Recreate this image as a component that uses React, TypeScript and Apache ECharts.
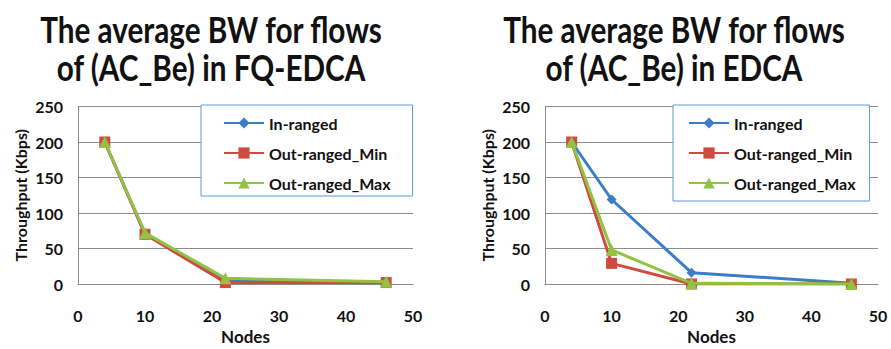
import React, { useEffect, useRef } from "react";
import * as echarts from "echarts";

const nodes = [4, 10, 22, 46];
const seriesNames = ["In-ranged", "Out-ranged_Min", "Out-ranged_Max"];
const fqIn = [200, 71, 5, 2];
const fqMin = [200, 70, 2, 2];
const fqMax = [200, 72, 8, 3];
const edIn = [200, 119, 16, 1];
const edMin = [200, 29, 0, 0];
const edMax = [200, 48, 1, 0];
const yTicks = [0, 50, 100, 150, 200, 250];
const xTicks = [0, 10, 20, 30, 40, 50];
const titles = [
  "The average BW for flows\nof (AC_Be) in FQ-EDCA",
  "The average BW for flows\nof (AC_Be) in EDCA",
];

const FONT = "Lato, 'DejaVu Sans', sans-serif";
const colors = ["#3B7DC8", "#CD4B3F", "#92C143"];
const symbols = ["diamond", "rect", "triangle"];
const symbolSizes = [10, 11, 12];
const gridColor = "#8c8c8c";

function pair(xs: number[], ys: number[]) {
  return xs.map((x, i) => [x, ys[i]]);
}

export default function App() {
  const ref = useRef<HTMLDivElement>(null);
  useEffect(() => {
    if (!ref.current) return;
    const chart = echarts.init(ref.current, undefined, { renderer: "svg" });
    const grids = [
      { left: 78, right: 891 - 413, top: 106.5, bottom: 65, containLabel: false, outerBoundsMode: "none" },
      { left: 545, right: 891 - 878, top: 106.5, bottom: 65, containLabel: false, outerBoundsMode: "none" },
    ];
    const xAxis = grids.map((_, i) => ({
      type: "value",
      gridIndex: i,
      min: xTicks[0],
      max: xTicks[xTicks.length - 1],
      interval: 10,
      name: "Nodes",
      nameLocation: "middle",
      nameGap: 44,
      nameTextStyle: { fontFamily: FONT, fontWeight: "bold", fontSize: 17, color: "#111" },
      axisLine: { show: true, lineStyle: { color: gridColor } },
      axisTick: { show: false },
      splitLine: { show: false },
      axisLabel: { margin: 23, fontFamily: FONT, fontWeight: "bold", fontSize: 16, color: "#111" },
    }));
    const yAxis = grids.map((_, i) => ({
      type: "value",
      gridIndex: i,
      min: yTicks[0],
      max: yTicks[yTicks.length - 1],
      interval: 50,
      name: "Throughput (Kbps)",
      nameLocation: "middle",
      nameGap: 50,
      nameTextStyle: { fontFamily: FONT, fontWeight: "bold", fontSize: 16, color: "#111" },
      axisLine: { show: true, lineStyle: { color: gridColor } },
      axisTick: { show: false },
      splitLine: { show: true, lineStyle: { color: gridColor } },
      axisLabel: { margin: 15, fontFamily: FONT, fontWeight: "bold", fontSize: 16, color: "#111" },
    }));
    const dataSets = [
      [fqIn, fqMin, fqMax],
      [edIn, edMin, edMax],
    ];
    const series: any[] = [];
    dataSets.forEach((set, g) => {
      set.forEach((vals, k) => {
        series.push({
          type: "line",
          name: seriesNames[k],
          xAxisIndex: g,
          yAxisIndex: g,
          data: pair(nodes, vals),
          symbol: symbols[k],
          symbolSize: symbolSizes[k],
          showSymbol: true,
          lineStyle: { width: 3, color: colors[k] },
          itemStyle: { color: colors[k] },
          z: 2 + k,
        });
      });
    });
    const legendBase = {
      orient: "vertical",
      data: seriesNames,
      itemWidth: 40,
      itemHeight: 14,
      itemGap: 14,
      borderColor: "#5B9BD5",
      borderWidth: 1,
      backgroundColor: "#fff",
      textStyle: { fontFamily: FONT, fontWeight: "bold", fontSize: 16, color: "#111" },
      selectedMode: false,
    };
    const titleStyle = (text: string) => ({
      text,
      textAlign: "center",
      font: `bold 29.7px ${FONT}`,
      lineHeight: 30.4,
      fill: "#111",
    });
    chart.setOption({
      animation: false,
      backgroundColor: "#fff",
      grid: grids,
      xAxis,
      yAxis,
      series,
      legend: [
        { ...legendBase, left: 201, top: 105, padding: [10, 22, 5, 22] },
        { ...legendBase, left: 673, top: 105, padding: [10, 14, 10, 15] },
      ],
      graphic: [
        { type: "text", x: 211, y: 10, scaleY: 1.25, style: titleStyle(titles[0]) },
        { type: "text", x: 674, y: 10, scaleY: 1.25, style: titleStyle(titles[1]) },
      ],
    });
    return () => chart.dispose();
  }, []);
  return (
    <div
      ref={ref}
      style={{ position: "fixed", left: 0, top: 0, width: 891, height: 349, background: "#fff" }}
    />
  );
}
